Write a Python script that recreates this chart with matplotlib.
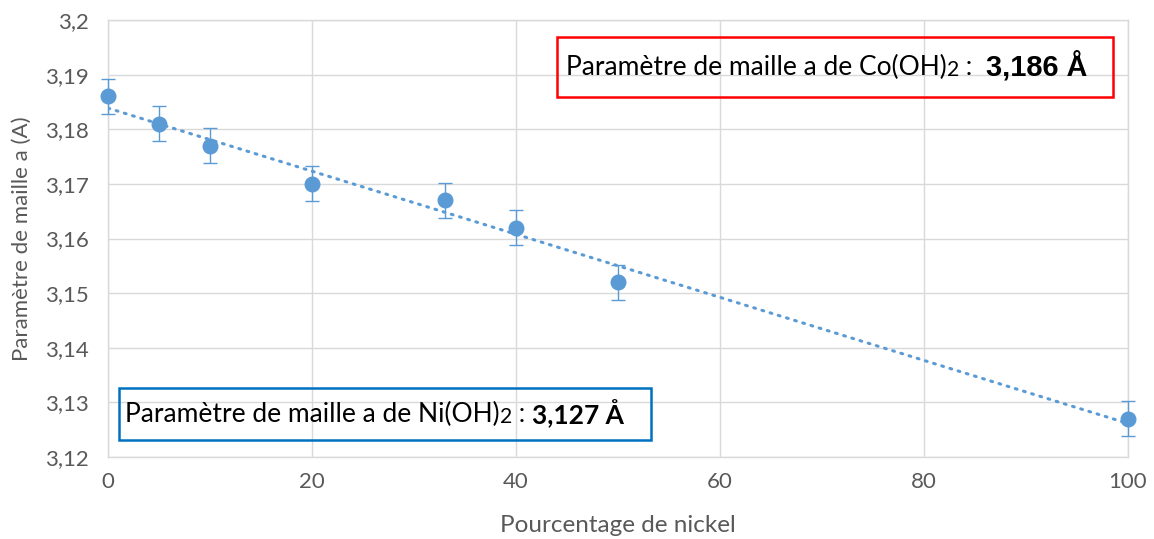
import numpy as np
import matplotlib
matplotlib.use("Agg")
import matplotlib.pyplot as plt
from matplotlib.patches import Rectangle
from matplotlib.ticker import FuncFormatter, MultipleLocator

# Nickel content (%) and measured lattice parameter a (Å)
nickel_pct = [0, 5, 10, 20, 33, 40, 50, 100]
param_a = [3.186, 3.181, 3.177, 3.170, 3.167, 3.162, 3.152, 3.127]
param_err = [0.0032, 0.0032, 0.0032, 0.0032, 0.0032, 0.0032, 0.0032, 0.0032]

co_value = "3,186 Å"
ni_value = "3,127 Å"

blue = "#5B9BD5"
grid_col = "#D9D9D9"
tick_col = "#595959"
font = "Lato"

fig = plt.figure(figsize=(11.54, 5.39), dpi=100)
ax = fig.add_axes([108 / 1154, 82 / 539, 1020 / 1154, 437 / 539])

ax.set_xlim(0, 100)
ax.set_ylim(3.12, 3.20)
ax.xaxis.set_major_locator(MultipleLocator(20))
ax.yaxis.set_major_locator(MultipleLocator(0.01))
ax.yaxis.set_major_formatter(FuncFormatter(lambda v, p: f"{v:.2f}".rstrip("0").replace(".", ",")))
ax.grid(True, color=grid_col, linewidth=1)
ax.set_axisbelow(True)
for s in ax.spines.values():
    s.set_color(grid_col)
    s.set_linewidth(1)
ax.tick_params(axis="y", length=0, pad=14, labelsize=16, labelcolor=tick_col)
ax.tick_params(axis="x", length=0, pad=11, labelsize=16, labelcolor=tick_col)
for lab in ax.get_xticklabels() + ax.get_yticklabels():
    lab.set_fontfamily(font)

# Linear trendline
coef = np.polyfit(nickel_pct, param_a, 1)
xs = np.array([0, 100])
ax.plot(xs, np.polyval(coef, xs), color=blue, linewidth=2.2,
        linestyle=(0, (0.6, 2.2)), dash_capstyle="round", zorder=2)

ax.errorbar(nickel_pct, param_a, yerr=param_err, fmt="o", color=blue,
            markersize=10.5, elinewidth=1, capsize=5, capthick=1, zorder=3,
            clip_on=False)

ax.set_xlabel("Pourcentage de nickel", fontsize=17.5, color=tick_col,
              fontfamily=font, labelpad=16)
ax.set_ylabel("Paramètre de maille a (A)", fontsize=16, color=tick_col,
              fontfamily=font, labelpad=9)


def boxed_label(x0, y0, x1, y1, edge, parts, tx, size=19):
    """Draw a framed label built from (text, weight, family, scale, dy) pieces in pixel coords."""
    W, H = 1154, 539
    fig.patches.append(Rectangle((x0 / W, 1 - y1 / H), (x1 - x0) / W, (y1 - y0) / H,
                                 transform=fig.transFigure, fill=False,
                                 edgecolor=edge, linewidth=1.8, zorder=5))
    fig.canvas.draw()
    renderer = fig.canvas.get_renderer()
    x = tx
    yc = (y0 + y1) / 2
    for text, weight, fam, scale, dy in parts:
        t = fig.text(x / W, 1 - (yc + dy) / H, text, fontsize=size * scale,
                     fontweight=weight, fontfamily=fam, color="black",
                     va="center", ha="left", zorder=6)
        bb = t.get_window_extent(renderer)
        x += bb.width


boxed_label(557, 37, 1113, 97, "#FF0000",
            [("Paramètre de maille a de Co(OH)", "normal", font, 1.0, 0),
             ("2", "normal", font, 0.8, 3),
             (" :  ", "normal", font, 1.0, 0),
             (co_value, "bold", "Liberation Sans", 1.1, -1)], 566)
boxed_label(119, 388, 651, 440, "#0070C0",
            [("Paramètre de maille a de Ni(OH)", "normal", font, 1.0, 0),
             ("2", "normal", font, 0.8, 3),
             (" : ", "normal", font, 1.0, 0),
             (ni_value, "bold", font, 1.0, 0)], 125)

fig.savefig("out.png", dpi=100)
